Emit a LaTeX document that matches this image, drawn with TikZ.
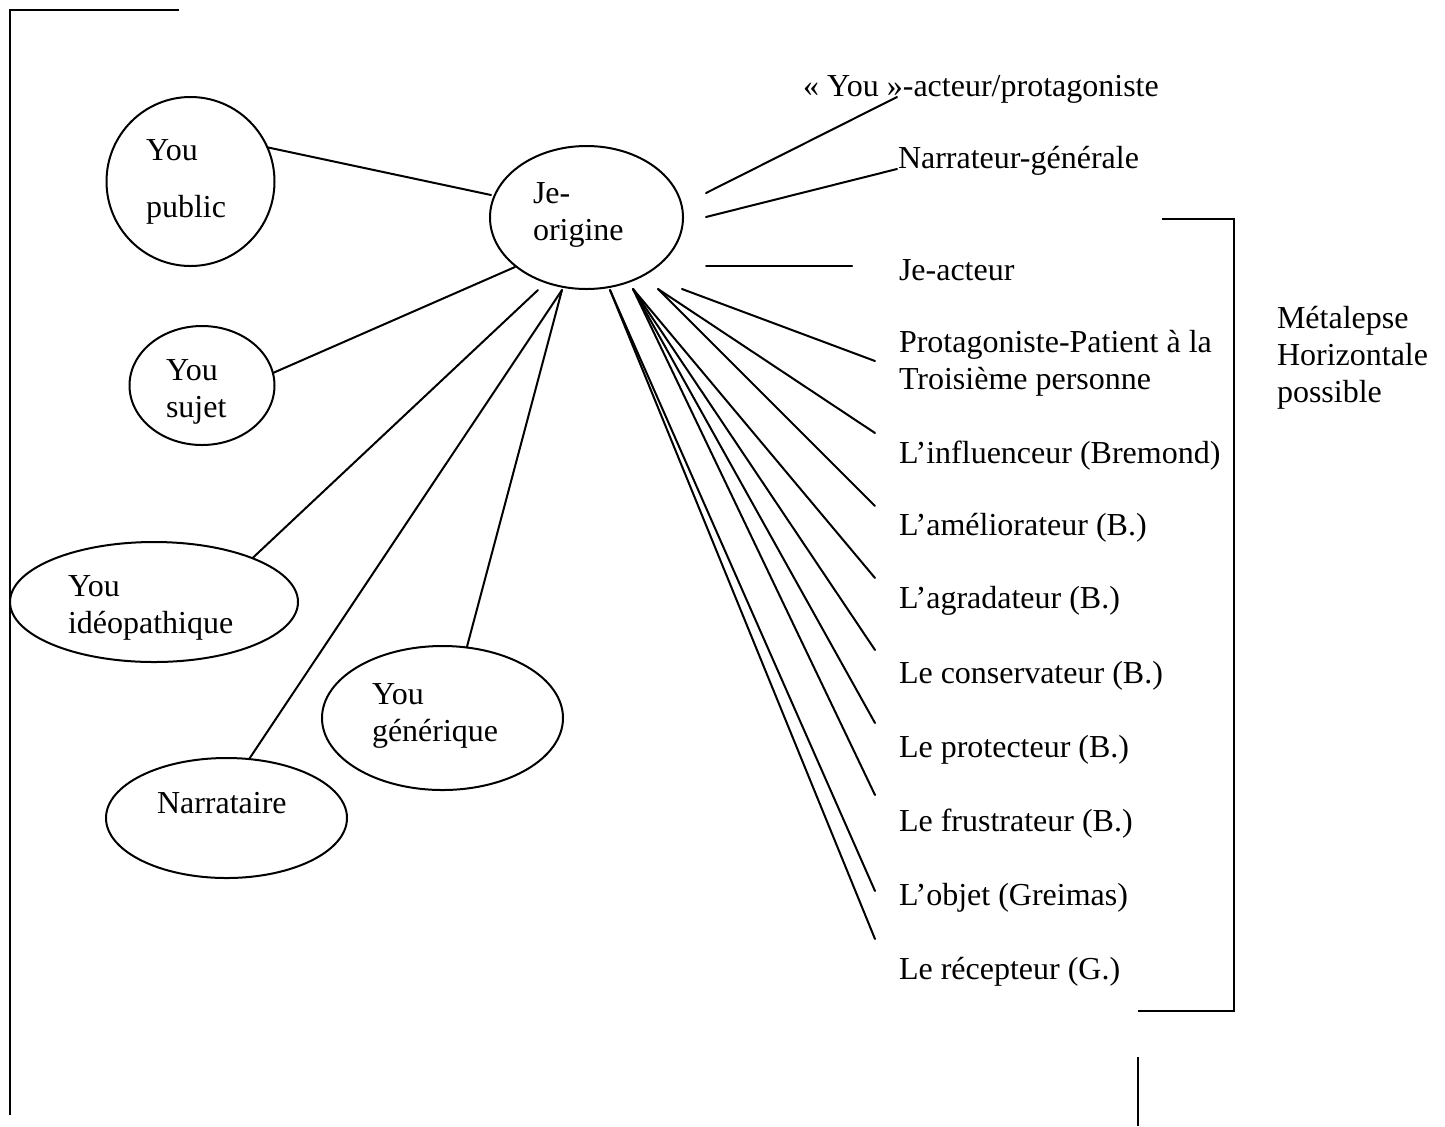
\documentclass[tikz,border=0pt]{standalone}
\usepackage{fontspec}
\setmainfont{Liberation Serif}
\usetikzlibrary{shapes.geometric}

\begin{document}
\begin{tikzpicture}[x=0.5pt, y=-0.5pt,
        %Option for plain lines%
        line width=1pt,%
        inner sep=0pt,%
        outer sep=0pt,%
        font=\fontsize{16}{18.4}\selectfont,%
        you bubble/.style 2 args={draw, ellipse,
            minimum width=#1*0.5pt, minimum height=#2*0.5pt},%
        bubble text/.style={anchor=base west, align=left},%
        role label/.style={anchor=base west, align=left},%
        ray/.style={line cap=round},%
        frame line/.style={line width=1.2pt}%
    ]
    %% page size
    \useasboundingbox (0,0) rectangle (1445,1126);
    %% some definitions
    \def\xLab{899}   % left edge of the role labels
    \def\xEnd{875}   % right end of the lower rays
    %
    %% the centre and the You bubbles
    \node[you bubble={193}{143}] (je)   at (586.5,217.5) {};
    \node[you bubble={168}{169}] (pub)  at (190.5,181.5) {};
    \node[you bubble={145}{119}] (suj)  at (202,385.5)   {};
    \node[you bubble={288}{120}] (ideo) at (154,602)     {};
    \node[you bubble={241}{120}] (narr) at (226.5,818)   {};
    \node[you bubble={241}{144}] (gen)  at (442.5,718)   {};
    %
    %% (base = baseline of the last line)
    \node[bubble text] (je-t)   at (533,240) {Je-\\origine};
    \node[bubble text] (pub-t)  at (146,217) {You\\[10pt]public};
    \node[bubble text] (suj-t)  at (166,417) {You\\sujet};
    \node[bubble text] (ideo-t) at (68,633)  {You\\idéopathique};
    \node[bubble text] (narr-t) at (157,813) {Narrataire};
    \node[bubble text] (gen-t)  at (372,741) {You\\générique};
    %
    %% points where the rays leave the centre
    \coordinate (jw)  at (491,195);
    \coordinate (jsw) at (515,267);
    \coordinate (jb1) at (538,290);
    \coordinate (jb2) at (562,290);
    \coordinate (jb3) at (610,290);
    \coordinate (jb4) at (633,289);
    \coordinate (jb5) at (658,289);
    \coordinate (jb6) at (682,289);
    \coordinate (je1) at (706,193);
    \coordinate (je2) at (706,217);
    \coordinate (je3) at (706,266);
    %
    \draw[ray] (jw)  -- (pub.24);
    \draw[ray] (jsw) -- (suj.10);
    \draw[ray] (jb1) -- (ideo.24);
    \draw[ray] (jb2) -- (narr.69);
    \draw[ray] (jb2) -- (gen.71);
    %
    %% upper roles
    \node[role label] (youact) at (803,96)    {« You »-acteur/protagoniste};
    \node[role label] (narrg)  at (898,168)   {Narrateur-générale};
    \node[role label] (jeact)  at (\xLab,280) {Je-acteur};
    \coordinate (youact-end) at (897,97);
    \coordinate (narrg-end)  at (897,169);
    \coordinate (jeact-end)  at (852,266);
    \draw[ray] (je1) -- (youact-end);
    \draw[ray] (je2) -- (narrg-end);
    \draw[ray] (je3) -- (jeact-end);
    %
    %% lower roles
    \foreach \nm/\yb/\ye/\src/\txt in {
        prot/389/361/jb6/{Protagoniste-Patient à la\\Troisième personne},
        infl/463/433/jb5/{L'influenceur (Bremond)},
        amel/535/506/jb5/{L'améliorateur (B.)},
        agra/608/578/jb4/{L'agradateur (B.)},
        cons/683/650/jb4/{Le conservateur (B.)},
        prote/757/723/jb4/{Le protecteur (B.)},
        frus/831/795/jb4/{Le frustrateur (B.)},
        obj/905/891/jb3/{L'objet (Greimas)},
        recep/979/939/jb3/{Le récepteur (G.)}}{
        \node[role label] (\nm) at (\xLab,\yb) {\txt};
        \coordinate (\nm-end) at (\xEnd,\ye);
        \draw[ray] (\src) -- (\nm-end);
    }
    %
    %% bracket and frame
    \draw[frame line] (1162,219) -- (1234,219) -- (1234,1011) -- (1138,1011);
    \node[role label] (meta) at (1277,402) {Métalepse\\Horizontale\\possible};
    \draw[frame line] (179,10) -- (10,10) -- (10,1115);
    \draw[frame line] (1138,1057) -- (1138,1126);
\end{tikzpicture}
\end{document}
